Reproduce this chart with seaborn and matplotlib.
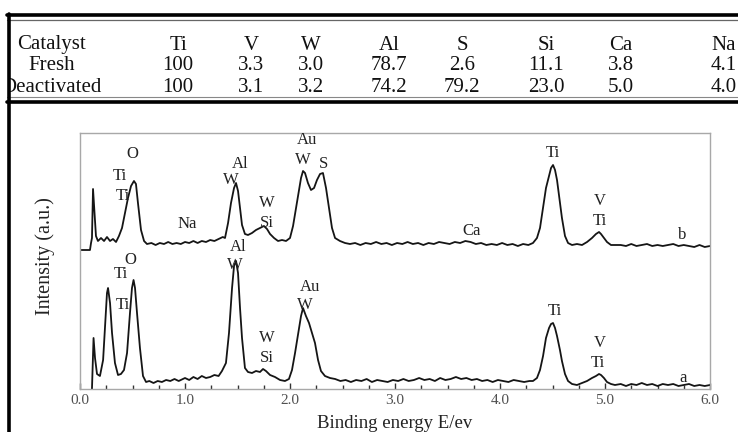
import numpy as np
import pandas as pd
import seaborn as sns
import matplotlib
matplotlib.use("Agg")
import matplotlib.pyplot as plt
from matplotlib.lines import Line2D
from matplotlib.patches import Rectangle

# ---------------- data ----------------
table_columns = ["Catalyst", "Ti", "V", "W", "Al", "S", "Si", "Ca", "Na"]
fresh_values = ["Fresh", "100", "3.3", "3.0", "78.7", "2.6", "11.1", "3.8", "4.1"]
deact_values = ["Deactivated", "100", "3.1", "3.2", "74.2", "79.2", "23.0", "5.0", "4.0"]

# spectrum a (fresh catalyst), energy in keV, intensity in a.u.
energy_a = [0.114, 0.129, 0.143, 0.162, 0.19, 0.22, 0.24, 0.257, 0.267, 0.286, 0.305, 0.333,
            0.362, 0.39, 0.419, 0.448, 0.476, 0.495, 0.51, 0.524, 0.543, 0.571, 0.6, 0.629,
            0.66, 0.70, 0.74, 0.78, 0.82, 0.86, 0.90, 0.94, 1.00, 1.04, 1.08, 1.12, 1.16,
            1.20, 1.24, 1.28, 1.32, 1.352, 1.39, 1.419, 1.448, 1.467, 1.486, 1.505, 1.524,
            1.543, 1.571, 1.60, 1.638, 1.676, 1.714, 1.743, 1.771, 1.81, 1.857, 1.905, 1.952,
            1.99, 2.019, 2.048, 2.076, 2.105, 2.124, 2.152, 2.181, 2.21, 2.238, 2.267, 2.295,
            2.333, 2.381, 2.43, 2.48, 2.53, 2.58, 2.63, 2.68, 2.73, 2.78, 2.83, 2.88, 2.93,
            2.98, 3.03, 3.08, 3.13, 3.18, 3.23, 3.28, 3.33, 3.38, 3.43, 3.48, 3.53, 3.58,
            3.63, 3.68, 3.73, 3.78, 3.83, 3.88, 3.93, 3.98, 4.03, 4.08, 4.13, 4.18, 4.23,
            4.28, 4.314, 4.352, 4.381, 4.41, 4.438, 4.467, 4.486, 4.505, 4.524, 4.543, 4.571,
            4.59, 4.619, 4.648, 4.686, 4.733, 4.781, 4.829, 4.876, 4.914, 4.943, 4.962, 4.99,
            5.019, 5.057, 5.095, 5.15, 5.2, 5.25, 5.3, 5.35, 5.4, 5.45, 5.5, 5.55, 5.6, 5.65,
            5.7, 5.75, 5.8, 5.85, 5.9, 5.95, 6.0]
intensity_a = [0, 51, 31, 15, 13, 29, 66, 96, 101, 86, 56, 26,
               14, 15, 19, 36, 76, 101, 109, 101, 76, 41, 13, 7,
               8, 6, 8, 7, 9, 8, 10, 8, 11, 9, 12, 10, 13,
               11, 12, 14, 13, 18, 26, 56, 101, 123, 128, 116, 81,
               51, 21, 17, 16, 18, 17, 20, 18, 14, 12, 9, 8,
               10, 19, 36, 54, 73, 81, 73, 66, 56, 46, 29, 18,
               13, 11, 10, 8, 9, 7, 9, 8, 10, 7, 9, 8, 7,
               9, 8, 10, 8, 9, 11, 9, 10, 8, 11, 9, 10, 12,
               10, 11, 9, 10, 8, 9, 7, 9, 8, 7, 9, 8, 7,
               8, 8, 11, 19, 33, 51, 61, 65, 66, 61, 53, 39,
               28, 15, 8, 5, 4, 6, 8, 11, 13, 15, 14, 11,
               7, 5, 4, 5, 3, 5, 4, 6, 4, 5, 3, 5, 4, 5,
               3, 4, 5, 3, 4, 3, 4]

# spectrum b (deactivated catalyst), energy in keV, intensity in a.u.
energy_b = [0.0, 0.095, 0.105, 0.114, 0.124, 0.138, 0.152, 0.171, 0.2, 0.229, 0.257, 0.286,
            0.314, 0.343, 0.371, 0.4, 0.429, 0.457, 0.486, 0.514, 0.533, 0.552, 0.581, 0.61,
            0.638, 0.68, 0.72, 0.76, 0.80, 0.84, 0.88, 0.92, 0.96, 1.00, 1.04, 1.08, 1.12,
            1.16, 1.20, 1.24, 1.28, 1.32, 1.36, 1.381, 1.41, 1.438, 1.467, 1.486, 1.505,
            1.524, 1.543, 1.571, 1.6, 1.638, 1.676, 1.714, 1.752, 1.781, 1.81, 1.848, 1.886,
            1.924, 1.962, 2.0, 2.029, 2.057, 2.086, 2.105, 2.124, 2.143, 2.171, 2.2, 2.229,
            2.257, 2.286, 2.314, 2.343, 2.371, 2.4, 2.429, 2.476, 2.524, 2.571, 2.62, 2.67,
            2.72, 2.77, 2.82, 2.87, 2.92, 2.97, 3.02, 3.07, 3.12, 3.17, 3.22, 3.27, 3.32,
            3.37, 3.42, 3.47, 3.52, 3.57, 3.62, 3.67, 3.72, 3.77, 3.82, 3.87, 3.92, 3.97,
            4.02, 4.07, 4.12, 4.17, 4.22, 4.27, 4.314, 4.352, 4.381, 4.41, 4.438, 4.467,
            4.486, 4.505, 4.524, 4.543, 4.571, 4.59, 4.619, 4.648, 4.686, 4.733, 4.781,
            4.829, 4.876, 4.914, 4.943, 4.962, 4.99, 5.019, 5.057, 5.095, 5.15, 5.2, 5.25,
            5.3, 5.35, 5.4, 5.45, 5.5, 5.55, 5.6, 5.65, 5.7, 5.75, 5.8, 5.85, 5.9, 5.95, 6.0]
intensity_b = [1, 1, 8, 13, 62, 38, 15, 10, 13, 10, 14, 10,
               12, 9, 15, 23, 38, 53, 65, 70, 67, 48, 21, 10,
               7, 8, 6, 8, 7, 9, 7, 8, 7, 9, 8, 10, 8,
               10, 9, 11, 10, 12, 14, 13, 28, 48, 63, 68, 60,
               43, 26, 17, 16, 18, 21, 23, 25, 22, 17, 13, 10,
               11, 10, 13, 25, 43, 61, 73, 80, 78, 68, 61, 63,
               71, 77, 78, 63, 43, 23, 13, 10, 8, 7, 8, 6,
               8, 7, 9, 7, 8, 6, 8, 7, 9, 7, 8, 6, 8,
               7, 9, 8, 7, 9, 8, 10, 9, 7, 8, 6, 7, 6,
               8, 6, 7, 5, 7, 6, 8, 13, 23, 43, 63, 75,
               83, 86, 81, 71, 48, 33, 15, 8, 6, 7, 6,
               9, 13, 17, 19, 17, 13, 9, 6, 6, 6, 5, 7,
               5, 6, 7, 5, 6, 5, 6, 7, 5, 6, 5, 4, 6, 4, 5]
offset_b = 138

x_ticks = [0, 1, 2, 3, 4, 5, 6]
x_tick_labels = ["0.0", "1.0", "2.0", "3.0", "4.0", "5.0", "6.0"]

# peak labels: (text, pixel x, pixel y)
peak_labels = [
    ("O", 132, 156), ("Ti", 120, 178), ("Ti", 123, 198), ("Na", 187, 226),
    ("Al", 240, 166), ("W", 231, 182), ("W", 267, 205), ("Si", 267, 225),
    ("Au", 307, 142), ("W", 303, 162), ("S", 323, 166), ("Ca", 472, 233),
    ("Ti", 553, 155), ("V", 600, 203), ("Ti", 600, 223), ("b", 682, 237),
    ("O", 130, 262), ("Ti", 121, 276), ("Ti", 123, 307),
    ("Al", 238, 249), ("W", 235, 267), ("W", 267, 340), ("Si", 267, 360),
    ("Au", 310, 289), ("W", 305, 307), ("Ti", 555, 313), ("V", 600, 345),
    ("Ti", 598, 365), ("a", 683, 380),
]

# ---------------- figure ----------------
sns.set_style("white")
plt.rcParams["font.family"] = ["Liberation Serif", "DejaVu Serif"]

W, H = 738, 432
fig = plt.figure(figsize=(W / 100, H / 100), dpi=100)
fig.patch.set_facecolor("white")

def fx(px):
    return px / W

def fy(py):
    return 1 - py / H

# axes area in pixels
ax_l, ax_r, ax_t, ax_b = 80, 710, 133, 389
ax = fig.add_axes([fx(ax_l), fy(ax_b), fx(ax_r) - fx(ax_l), fy(ax_t) - fy(ax_b)])

df_a = pd.DataFrame({"energy": energy_a, "intensity": intensity_a})
df_b = pd.DataFrame({"energy": energy_b, "intensity": np.array(intensity_b) + offset_b})
sns.lineplot(data=df_a, x="energy", y="intensity", ax=ax, color="#151515", lw=1.3,
             estimator=None, sort=False)
sns.lineplot(data=df_b, x="energy", y="intensity", ax=ax, color="#151515", lw=1.3,
             estimator=None, sort=False)

y_base = 391  # pixel row of zero intensity in the reference
ax.set_xlim(0, 6)
ax.set_ylim(0, ax_b - ax_t)
ax.set_yticks([])
ax.set_xticks(x_ticks)
ax.set_xticklabels(x_tick_labels)
ax.set_xticks(np.arange(0, 6.01, 0.25), minor=True)
ax.tick_params(axis="x", which="major", direction="in", length=4, width=1, color="#333333",
               pad=3.5, labelsize=11, labelcolor="#505050", bottom=True)
ax.tick_params(axis="x", which="minor", direction="in", length=3, width=1, color="#333333",
               bottom=True)
for s in ax.spines.values():
    s.set_color("#a8a8a8")
    s.set_linewidth(1.0)
ax.set_xlabel("")
ax.set_ylabel("")

for txt, px, py in peak_labels:
    ax.text((px - ax_l) / 105, y_base - py, txt, ha="center", va="center",
            fontsize=12, color="#222222")

fig.text(fx(395), fy(431.5), "Binding energy E/ev", ha="center", va="bottom",
         fontsize=13.5, color="#222222")
fig.text(fx(45), fy(256), "Intensity (a.u.)", ha="center", va="center", rotation=90,
         fontsize=14.5, color="#222222")

# ---------------- table ----------------
col_x = [52, 178, 251, 311, 389, 462, 546, 621, 724]
row_y = [45, 66, 88]
for row, py in zip([table_columns, fresh_values, deact_values], row_y):
    for txt, px in zip(row, col_x):
        fig.text(fx(px), fy(py), txt, ha="center", va="center", fontsize=15,
                 color="#111111")

# rules and frame
fig.add_artist(Rectangle((0, 0), fx(8), 1, transform=fig.transFigure,
                         facecolor="white", edgecolor="none", zorder=5))
fig.add_artist(Line2D([fx(7), 1], [fy(15), fy(15)], transform=fig.transFigure,
                      color="black", lw=2.6, zorder=6))
fig.add_artist(Line2D([fx(7), 1], [fy(19.5), fy(19.5)], transform=fig.transFigure,
                      color="#666666", lw=0.9, zorder=6))
fig.add_artist(Line2D([fx(7), 1], [fy(97), fy(97)], transform=fig.transFigure,
                      color="#888888", lw=0.8, zorder=6))
fig.add_artist(Line2D([fx(7), 1], [fy(101.5), fy(101.5)], transform=fig.transFigure,
                      color="black", lw=2.6, zorder=6))
fig.add_artist(Line2D([fx(8.5), fx(8.5)], [fy(13.5), 0], transform=fig.transFigure,
                      color="black", lw=2.6, zorder=6))

fig.savefig("out.png", dpi=100, facecolor="white")
